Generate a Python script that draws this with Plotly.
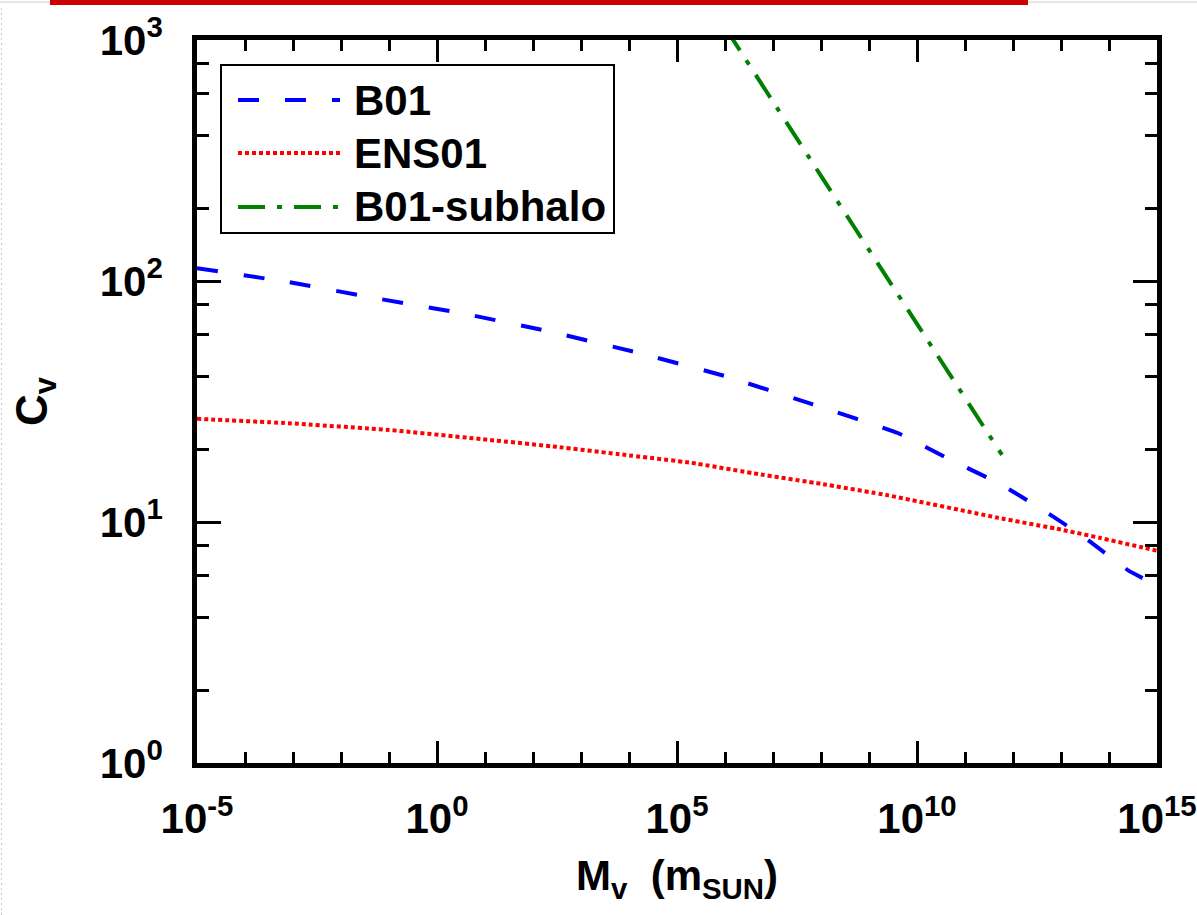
import plotly.graph_objects as go

# ---- data ----
b01_logM = [-5, -3.1, -1.3, 0.5, 2.3, 4.2, 6.0, 7.8, 9.6, 10.8, 11.7, 12.6, 13.5, 14.4, 14.7]
b01_c = [113, 99, 85, 73.6, 62, 50.3, 40.3, 30.9, 23.4, 17.7, 14.5, 11.3, 8.6, 6.3, 5.85]

ens_logM = [-5, -3.1, -1.0, 1.1, 2.5, 3.9, 5.3, 6.7, 8.0, 9.4, 11.7, 13.0, 13.8, 14.75, 15]
ens_c = [26.8, 25.7, 24.1, 21.9, 20.5, 19.0, 17.6, 15.8, 14.4, 12.9, 10.4, 9.3, 8.6, 7.8, 7.6]

sub_logM = [6, 8, 10, 11.77]
sub_c = [1128, 273, 66.4, 19]

series_names = ["B01", "ENS01", "B01-subhalo"]
series_colors = ["#0000ff", "#ff0000", "#008000"]
series_dash = ["21px,26px", "4px,3px", "27px,12px,5px,12px"]

x_tick_exp = [-5, 0, 5, 10, 15]
y_tick_exp = [0, 1, 2, 3]

W, H = 1197, 915
L, R, T, B = 197, 1157, 40, 763

fig = go.Figure()
xs_all = [b01_logM, ens_logM, sub_logM]
ys_all = [b01_c, ens_c, sub_c]
for name, xs, ys, col, dash in zip(series_names, xs_all, ys_all, series_colors, series_dash):
    fig.add_trace(go.Scatter(
        x=[10 ** v for v in xs], y=ys, mode="lines", name=name,
        line=dict(color=col, width=4, dash=dash, shape="spline", smoothing=0.3),
        showlegend=False, hoverinfo="skip"))

font_family = "Liberation Sans, Arial, Helvetica, sans-serif"

def sup(e):
    return "10<sup>%d</sup>" % e

x_minor = [10 ** e for e in range(-5, 16) if e % 5 != 0]
y_minor = [m * 10 ** e for e in range(0, 3) for m in (2, 4, 6, 8)]

fig.update_xaxes(
    type="log", range=[-5, 15], showgrid=False, zeroline=False,
    showline=True, linecolor="black", linewidth=4.5, mirror="ticks",
    ticks="inside", ticklen=22, tickwidth=3, tickcolor="black",
    tickmode="array", tickvals=[10 ** e for e in x_tick_exp],
    ticktext=[sup(e) for e in x_tick_exp],
    tickfont=dict(family=font_family, size=42, color="black", weight="bold"),
    ticklabelstandoff=15, ticklabeloverflow="allow",
    minor=dict(tickmode="array", tickvals=x_minor, ticks="inside", ticklen=11,
               tickwidth=3, tickcolor="black", showgrid=False),
    title=dict(text="M<sub>v</sub>  (m<sub>SUN</sub>)",
               font=dict(family=font_family, size=42, color="black", weight="bold"),
               standoff=21),
)
fig.update_yaxes(
    type="log", range=[0, 3], showgrid=False, zeroline=False,
    showline=True, linecolor="black", linewidth=4.5, mirror="ticks",
    ticks="inside", ticklen=24, tickwidth=3, tickcolor="black",
    tickmode="array", tickvals=[10 ** e for e in y_tick_exp],
    ticktext=[sup(e) for e in y_tick_exp],
    tickfont=dict(family=font_family, size=42, color="black", weight="bold"),
    ticklabelstandoff=21, ticklabeloverflow="allow",
    minor=dict(tickmode="array", tickvals=y_minor, ticks="inside", ticklen=12,
               tickwidth=3, tickcolor="black", showgrid=False),
    title=dict(text="C<sub>v</sub>",
               font=dict(family=font_family, size=44, color="black", weight="bold"),
               standoff=40),
)

def px(xp):
    return (xp - L) / (R - L)

def py(yp):
    return (B - yp) / (B - T)

shapes = []
# legend box
shapes.append(dict(type="rect", xref="paper", yref="paper",
                   x0=px(221), x1=px(614), y0=py(233), y1=py(65),
                   line=dict(color="black", width=2), fillcolor="white", layer="above"))
rows = [100, 153, 207]
annotations = []
for name, col, dash, ry in zip(series_names, series_colors, series_dash, rows):
    shapes.append(dict(type="line", xref="paper", yref="paper",
                       x0=px(238), x1=px(340), y0=py(ry), y1=py(ry),
                       line=dict(color=col, width=4, dash=dash), layer="above"))
    annotations.append(dict(xref="paper", yref="paper", x=px(352), y=py(ry),
                            xanchor="left", yanchor="middle", showarrow=False,
                            text=name,
                            font=dict(family=font_family, size=42, color="black",
                                      weight="bold")))
# screenshot decorations: red bar and thin gray line at top, dotted left edge
shapes.append(dict(type="rect", xref="paper", yref="paper",
                   x0=px(50), x1=px(1028), y0=py(5), y1=py(0),
                   line=dict(width=0), fillcolor="#cc0000", layer="above"))
shapes.append(dict(type="rect", xref="paper", yref="paper",
                   x0=px(1028), x1=px(1197), y0=py(3), y1=py(1),
                   line=dict(width=0), fillcolor="#e6e6e6", layer="above"))
shapes.append(dict(type="rect", xref="paper", yref="paper",
                   x0=px(0), x1=px(50), y0=py(3), y1=py(1),
                   line=dict(width=0), fillcolor="#e6e6e6", layer="above"))
shapes.append(dict(type="line", xref="paper", yref="paper",
                   x0=px(1.5), x1=px(1.5), y0=py(915), y1=py(8),
                   line=dict(color="#c8c8c8", width=1, dash="2px,3px"), layer="above"))

fig.update_layout(
    width=W, height=H,
    margin=dict(l=L, r=W - R, t=T, b=H - B, autoexpand=False),
    paper_bgcolor="white", plot_bgcolor="white",
    shapes=shapes, annotations=annotations, showlegend=False,
    hovermode=False,
)

fig.write_html("out.html", config={"displayModeBar": False},
               post_script="document.body.style.margin='0px';document.body.style.overflow='hidden';")
